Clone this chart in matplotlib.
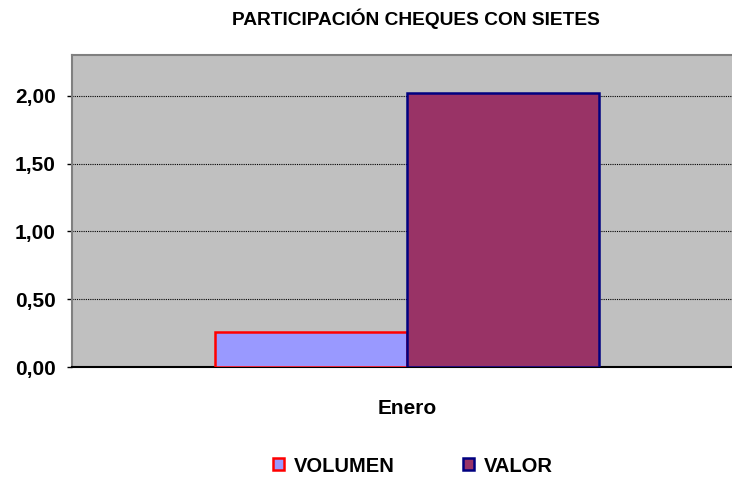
import matplotlib
matplotlib.use("Agg")
import matplotlib.pyplot as plt
from matplotlib.patches import Patch
from matplotlib.ticker import FuncFormatter

plt.rcParams['font.family'] = ['Liberation Sans', 'DejaVu Sans']

categories = ["Enero"]
series_names = ["VOLUMEN", "VALOR"]
volumen = [0.26]
valor = [2.02]
yticks = [0.0, 0.5, 1.0, 1.5, 2.0]

fig = plt.figure(figsize=(7.32, 4.78), dpi=100)
ax = fig.add_axes([72/732, (478-367)/478, (732-72)/732, (367-55)/478])
ax.set_facecolor('#C0C0C0')

w = 1.0
ax.bar([-0.5], volumen, width=w, color='#9999FF', edgecolor='#FF0000', linewidth=1.8, zorder=3)
ax.bar([0.5], valor, width=w, color='#993366', edgecolor='#000080', linewidth=1.8, zorder=3)

ax.set_xlim(-1.745, 1.693)
ax.set_ylim(0, 2.30)
ax.set_yticks(yticks)
ax.yaxis.set_major_formatter(FuncFormatter(lambda v, p: f"{v:.2f}".replace('.', ',')))
ax.grid(axis='y', color='black', linestyle=(0, (1, 1)), linewidth=0.8, zorder=1)
ax.set_xticks([0])
ax.set_xticklabels(categories)
ax.tick_params(axis='x', length=0, pad=23, labelsize=15)
ax.tick_params(axis='y', length=3.6, width=1, direction='out', labelsize=15, pad=8)
for lab in ax.get_xticklabels() + ax.get_yticklabels():
    lab.set_fontweight('bold')

ax.spines['top'].set_color('#808080')
ax.spines['left'].set_color('#808080')
ax.spines['top'].set_linewidth(1.5)
ax.spines['left'].set_linewidth(1.5)
ax.spines['right'].set_visible(False)
ax.spines['bottom'].set_color('black')
ax.spines['bottom'].set_linewidth(1.5)

fig.text(416/732, 1 - 25/478, "PARTICIPACIÓN CHEQUES CON SIETES", ha='center', va='baseline',
         fontsize=13.8, fontweight='bold')

handles = [Patch(facecolor='#9999FF', edgecolor='#FF0000', linewidth=1.8),
           Patch(facecolor='#993366', edgecolor='#000080', linewidth=1.8)]
leg = fig.legend(handles, series_names, loc='center', bbox_to_anchor=(413/732, 1 - 466/478),
                 ncol=2, frameon=False, handlelength=0.55, handleheight=0.55, handletextpad=0.5,
                 columnspacing=3.4, borderpad=0, prop={'weight': 'bold', 'size': 14.5})

fig.savefig("out.png", dpi=100)
